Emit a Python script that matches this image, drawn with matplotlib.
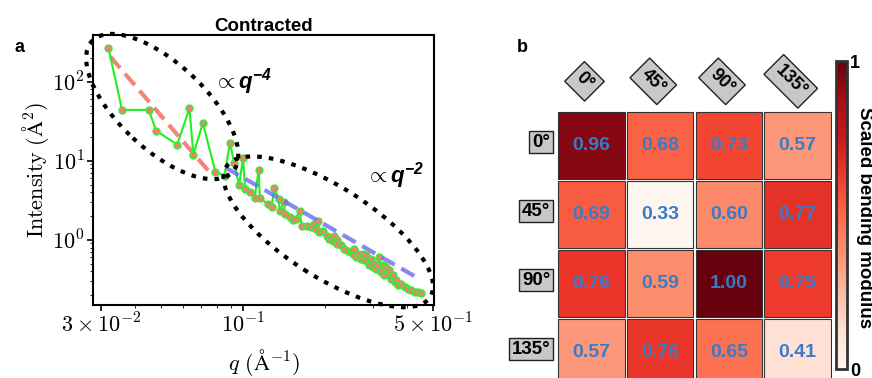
import matplotlib
matplotlib.use('agg')
import matplotlib.pyplot as plt
import matplotlib.transforms as mtransforms
from matplotlib.patches import Ellipse
from matplotlib.ticker import NullFormatter
import numpy as np

plt.rcParams['font.family'] = 'Liberation Sans'
plt.rcParams['mathtext.fontset'] = 'cm'
# used only by the texts that ask for math_fontfamily='custom'
plt.rcParams['mathtext.rm'] = 'Liberation Sans'
plt.rcParams['mathtext.bf'] = 'Liberation Sans:bold:italic'

# panel a: scattering curve (contracted)
q = [0.0319, 0.0358, 0.0449, 0.0478, 0.0571, 0.0634, 0.0655, 0.0710, 0.0790, 0.0853,
     0.0893, 0.0925, 0.0965, 0.0998, 0.1015, 0.106, 0.110, 0.114, 0.115, 0.123,
     0.127, 0.130, 0.135, 0.136, 0.141, 0.1425, 0.148, 0.153, 0.156, 0.161,
     0.164, 0.172, 0.177, 0.182, 0.185, 0.189, 0.190, 0.196, 0.203, 0.207,
     0.213, 0.216, 0.221, 0.222, 0.229, 0.235, 0.242, 0.249, 0.253, 0.256,
     0.260, 0.264, 0.271, 0.275, 0.279, 0.283, 0.287, 0.291, 0.295, 0.299,
     0.303, 0.308, 0.313, 0.317, 0.321, 0.326, 0.330, 0.336, 0.340, 0.345,
     0.350, 0.355, 0.360, 0.365, 0.371, 0.381, 0.392, 0.403, 0.415, 0.427,
     0.439, 0.449]
intensity = [270, 44, 44, 24, 16, 46, 12, 30, 7.2, 6.5,
             17, 9.5, 4.9, 10.8, 4.45, 4.05, 3.4, 7.7, 3.4, 2.84,
             2.57, 4.5, 3.28, 2.33, 2.98, 2.12, 1.93, 1.78, 1.86, 2.33,
             1.51, 1.51, 1.44, 1.59, 1.37, 1.72, 1.25, 1.31, 1.13, 1.03,
             0.98, 1.13, 1.01, 0.89, 0.85, 0.77, 0.73, 0.70, 0.67, 0.77,
             0.61, 0.67, 0.58, 0.67, 0.55, 0.64, 0.52, 0.475, 0.58, 0.45,
             0.50, 0.43, 0.475, 0.61, 0.39, 0.475, 0.356, 0.45, 0.37, 0.41,
             0.323, 0.356, 0.294, 0.308, 0.266, 0.28, 0.254, 0.242, 0.23, 0.22,
             0.216, 0.21]

fit4_q = [0.0324, 0.0769]
fit4_I = [208, 6.55]
fit2_q = [0.0861, 0.445]
fit2_I = [8.2, 0.32]

# panel b: bending modulus matrix
angles = ['0°', '45°', '90°', '135°']
modulus = [[0.96, 0.68, 0.73, 0.57],
           [0.69, 0.33, 0.60, 0.77],
           [0.76, 0.59, 1.00, 0.75],
           [0.57, 0.76, 0.65, 0.41]]

W, H = 872, 378
fig = plt.figure(figsize=(W / 100, H / 100), dpi=100)

# ---- a ----
ax = fig.add_axes([93 / W, 1 - 305 / H, 341 / W, 270 / H])
ax.loglog(fit4_q, fit4_I, ls=(0, (3.6, 1.8)), color='#f4837a', lw=3, zorder=2)
ax.loglog(q, intensity, '-o', color='#22ee22', mfc='#f28072', mec='#33ee33',
          ms=5, mew=1, lw=1.5, zorder=3)
ax.loglog(fit2_q, fit2_I, ls=(0, (3.6, 1.8)), color='#6a6af2', alpha=0.8, lw=3, zorder=4)
ax.set_xlim(0.0280, 0.503)
ax.set_ylim(0.15, 390)
ax.set_xticks([0.03, 0.1, 0.5])
ax.set_xticklabels([r'$3\times10^{-2}$', r'$10^{-1}$', r'$5\times10^{-1}$'])
ax.set_yticks([1, 10, 100])
ax.set_yticklabels([r'$10^{0}$', r'$10^{1}$', r'$10^{2}$'])
ax.xaxis.set_minor_formatter(NullFormatter())
ax.yaxis.set_minor_formatter(NullFormatter())
ax.tick_params(labelsize=16, width=1.2, length=4, pad=2)
ax.tick_params(which='minor', length=2.5)
for s in ax.spines.values():
    s.set_linewidth(1.5)
ax.set_xlabel(r'$q\ (\mathrm{\AA}^{-1})$', fontsize=16, labelpad=7)
ax.set_ylabel(r'$\mathrm{Intensity}\ (\mathrm{\AA}^{2})$', fontsize=16, labelpad=1)
ax.set_title('Contracted', fontsize=13.5, fontweight='bold', pad=3)

# dotted guide ellipses (sizes in inches, centre in axes fraction)
for cx, cy, w, h, ang in [(0.203, 0.735, 1.92, 0.86, -43), (0.690, 0.271, 2.42, 0.9, -32.6)]:
    e = Ellipse((0, 0), w, h, angle=ang, fill=False, ec='black', lw=3,
                ls=(0, (1.1, 1.7)), zorder=5,
                transform=fig.dpi_scale_trans + mtransforms.ScaledTranslation(cx, cy, ax.transAxes))
    fig.add_artist(e)

ax.text(0.44, 0.826, r'$\propto\mathbf{q}^{\mathbf{-4}}$', transform=ax.transAxes,
        math_fontfamily='custom', fontsize=16, ha='center', va='center')
ax.text(0.886, 0.481, r'$\propto\mathbf{q}^{\mathbf{-2}}$', transform=ax.transAxes,
        math_fontfamily='custom', fontsize=16, ha='center', va='center')

# ---- b ----
M = np.array(modulus)
scaled = (M - M.min()) / (M.max() - M.min())
cmap = plt.get_cmap('Reds')

ax2 = fig.add_axes([557 / W, 1 - 387 / H, 275 / W, 276 / H])
cols = np.arange(len(angles))
for i, row in enumerate(modulus):
    ax2.bar(cols, 0.97, bottom=i - 0.485, width=0.97, color=cmap(scaled[i]),
            edgecolor='#333333', linewidth=0.8)
    for j, v in enumerate(row):
        ax2.text(j, i, f'{v:.2f}', ha='center', va='center', fontsize=14,
                 fontweight='bold', color='#3a7bc8')
ax2.set_xlim(-0.5, 3.5)
ax2.set_ylim(3.5, -0.5)
ax2.axis('off')

box = dict(boxstyle='square,pad=0.3', fc='#c8c8c8', ec='#222222', lw=1)
for j, a in enumerate(angles):
    ax2.text(j - 0.1, -0.93, a, rotation=-45, ha='center', va='center',
             rotation_mode='anchor', fontsize=13, fontweight='bold', bbox=box)
for i, a in enumerate(angles):
    ax2.text(-0.6, i - 0.05, a, ha='right', va='center', fontsize=13.5,
             fontweight='bold', bbox=dict(boxstyle='square,pad=0.15', fc='#c8c8c8',
                                          ec='#222222', lw=1))

cax = fig.add_axes([836 / W, 1 - 369 / H, 11 / W, (369 - 61) / H])
sm = plt.cm.ScalarMappable(norm=plt.Normalize(0, 1), cmap=cmap)
cb = fig.colorbar(sm, cax=cax, ticks=[0, 1])
cb.ax.set_yticklabels(['0', '1'], fontsize=13, fontweight='bold')
cb.ax.tick_params(length=0, pad=2)
cb.outline.set_linewidth(2)
cb.outline.set_edgecolor('#333333')
fig.text(864 / W, 1 - 218 / H, 'Scaled bending modulus', rotation=-90, fontsize=13.5,
         fontweight='bold', ha='center', va='center')

fig.text(14 / W, 1 - 47 / H, 'a', fontsize=13, fontweight='bold', va='center')
fig.text(517 / W, 1 - 47 / H, 'b', fontsize=13, fontweight='bold', va='center')

fig.savefig('out.png', dpi=100)
